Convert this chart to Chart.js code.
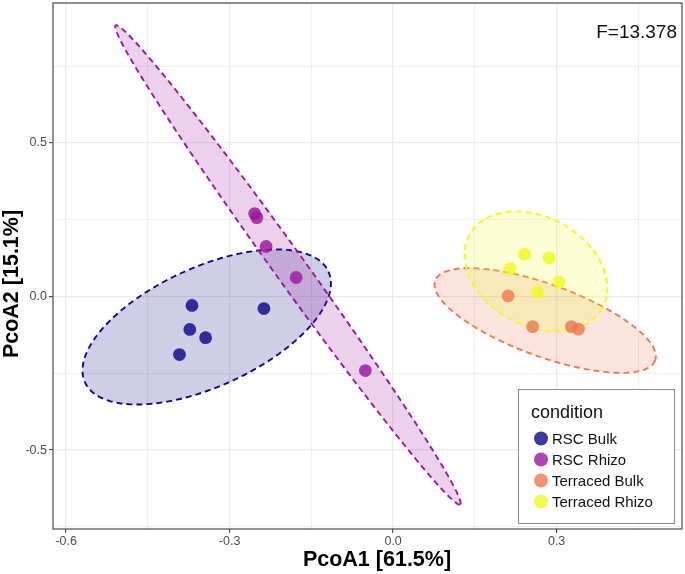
<!DOCTYPE html>
<html>
<head>
<meta charset="utf-8">
<script src="https://cdn.jsdelivr.net/npm/chart.js@4/dist/chart.umd.min.js"></script>
<style>
  html, body { margin: 0; padding: 0; background: #fff; }
  #wrap { width: 685px; height: 574px; }
</style>
</head>
<body>
<div id="wrap"><canvas id="chart" width="685" height="574"></canvas></div>
<script>
// groups and points
let groups = ['RSC Bulk', 'RSC Rhizo', 'Terraced Bulk', 'Terraced Rhizo'];
let colors = ['#0D0887', '#9C179E', '#ED7953', '#F0F921'];

let rscBulkX = [-0.369, -0.373, -0.344, -0.392, -0.237];
let rscBulkY = [-0.029, -0.107, -0.134, -0.189, -0.039];
let rscRhizoX = [-0.254, -0.250, -0.233, -0.178, -0.051];
let rscRhizoY = [0.270, 0.257, 0.163, 0.062, -0.241];
let terBulkX = [0.211, 0.256, 0.327, 0.340];
let terBulkY = [0.002, -0.098, -0.098, -0.106];
let terRhizoX = [0.241, 0.286, 0.215, 0.304, 0.265];
let terRhizoY = [0.138, 0.126, 0.091, 0.047, 0.015];

// ellipses: centre and two semi-axis vectors (data units)
let ellCx = [-0.342, -0.193, 0.279, 0.262];
let ellCy = [-0.099, 0.103, -0.078, 0.082];
let ellU = [[0.2233, 0.1805], [0.316, -0.780], [0.2018, -0.130], [0.1219, -0.1199]];
let ellV = [[0.0454, -0.1765], [-0.0232, -0.0293], [-0.0226, -0.1104], [-0.0483, -0.1544]];

let xTicks = [-0.6, -0.45, -0.3, -0.15, 0, 0.15, 0.3, 0.45];
let xLabels = [-0.6, -0.3, 0, 0.3];
let yTicks = [-0.75, -0.5, -0.25, 0, 0.25, 0.5, 0.75];
let yLabels = [-0.5, 0, 0.5];

let xTitle = 'PcoA1 [61.5%]';
let yTitle = 'PcoA2 [15.1%]';
let statText = 'F=13.378';
let FONT = "'Liberation Sans', Arial, sans-serif";

function pts(xs, ys) {
    let out = [];
    for (var i=0; i<xs.length; i++) out.push({x: xs[i], y: ys[i]});
    return out;
}

function alpha(hex, a) {
    let n = parseInt(hex.slice(1), 16);
    return 'rgba(' + (n >> 16) + ',' + ((n >> 8) & 255) + ',' + (n & 255) + ',' + a + ')';
}

function isMajor(list, v) {
    return list.some(l => Math.abs(l - v) < 1e-9);
}

let series = [pts(rscBulkX, rscBulkY), pts(rscRhizoX, rscRhizoY), pts(terBulkX, terBulkY), pts(terRhizoX, terRhizoY)];

let ellipsePlugin = {
    id: 'ellipses',
    beforeDatasetsDraw(chart) {
        const {ctx, chartArea, scales} = chart;
        ctx.save();
        ctx.beginPath();
        ctx.rect(chartArea.left, chartArea.top, chartArea.right - chartArea.left, chartArea.bottom - chartArea.top);
        ctx.clip();
        for (var g=0; g<groups.length; g++) {
            ctx.beginPath();
            for (var k=0; k<=180; k++) {
                let t = k / 180 * Math.PI * 2;
                let dx = ellCx[g] + ellU[g][0] * Math.cos(t) + ellV[g][0] * Math.sin(t);
                let dy = ellCy[g] + ellU[g][1] * Math.cos(t) + ellV[g][1] * Math.sin(t);
                let px = scales.x.getPixelForValue(dx);
                let py = scales.y.getPixelForValue(dy);
                if (k == 0) ctx.moveTo(px, py); else ctx.lineTo(px, py);
            }
            ctx.closePath();
            ctx.fillStyle = alpha(colors[g], 0.2);
            ctx.fill();
            ctx.setLineDash([6, 4]);
            ctx.lineWidth = 1.9;
            ctx.strokeStyle = colors[g];
            ctx.stroke();
        }
        ctx.restore();
    },
    afterDraw(chart) {
        const {ctx, chartArea} = chart;
        ctx.save();
        // panel border
        ctx.strokeStyle = '#4a4a4a';
        ctx.lineWidth = 1.2;
        ctx.strokeRect(chartArea.left, chartArea.top, chartArea.right - chartArea.left, chartArea.bottom - chartArea.top);

        // axis titles
        ctx.fillStyle = '#000';
        ctx.font = 'bold 21.5px ' + FONT;
        ctx.textAlign = 'center';
        ctx.textBaseline = 'middle';
        ctx.fillText(xTitle, 377, 560);
        ctx.save();
        ctx.translate(12, 284);
        ctx.rotate(-Math.PI / 2);
        ctx.fillText(yTitle, 0, 0);
        ctx.restore();

        // statistic
        ctx.fillStyle = '#111';
        ctx.font = '19px ' + FONT;
        ctx.textAlign = 'right';
        ctx.fillText(statText, 677, 33);

        // legend box
        let lx = 518, ly = 389, lw = 156, lh = 134;
        ctx.fillStyle = '#fff';
        ctx.fillRect(lx, ly, lw, lh);
        ctx.strokeStyle = '#8a8a8a';
        ctx.lineWidth = 1;
        ctx.strokeRect(lx + 0.5, ly + 0.5, lw, lh);
        ctx.textAlign = 'left';
        ctx.fillStyle = '#111';
        ctx.font = '18px ' + FONT;
        ctx.fillText('condition', 531, 413);
        ctx.font = '15px ' + FONT;
        let rows = [438.5, 459.5, 480.5, 501.5];
        for (var g=0; g<groups.length; g++) {
            ctx.beginPath();
            ctx.arc(541, rows[g], 7, 0, Math.PI * 2);
            ctx.fillStyle = alpha(colors[g], 0.8);
            ctx.fill();
            ctx.fillStyle = '#111';
            ctx.fillText(groups[g], 552, rows[g] + 1);
        }
        ctx.restore();
    }
};

function initChart() {
    const ctx = document.getElementById('chart').getContext('2d');
    let datasets = [];
    for (var g=0; g<groups.length; g++) {
        datasets.push({
            label: groups[g],
            data: series[g],
            pointRadius: 6.4,
            pointHoverRadius: 6.4,
            pointBorderWidth: 0,
            backgroundColor: alpha(colors[g], 0.82),
            borderColor: alpha(colors[g], 0.82)
        });
    }

    let tickFont = {family: FONT, size: 12.5};

    return new Chart(ctx, {
        type: 'scatter',
        data: {datasets: datasets},
        plugins: [ellipsePlugin],
        options: {
            responsive: false,
            animation: false,
            events: [],
            layout: {autoPadding: false, padding: {top: 3, right: 3, left: 0, bottom: 0}},
            plugins: {
                legend: {display: false},
                tooltip: {enabled: false}
            },
            scales: {
                x: {
                    type: 'linear',
                    min: -0.624,
                    max: 0.53,
                    afterBuildTicks: (s) => { s.ticks = xTicks.map(v => ({value: v})); },
                    afterFit: (s) => { s.height = 45; s.paddingLeft = 0; s.paddingRight = 0; },
                    border: {display: false},
                    grid: {
                        color: '#ebebeb',
                        lineWidth: (c) => isMajor(xLabels, c.tick.value) ? 1.3 : 0.8,
                        tickLength: 4,
                        tickColor: (c) => isMajor(xLabels, c.tick.value) ? '#333' : 'rgba(0,0,0,0)',
                        tickWidth: 1
                    },
                    ticks: {
                        color: '#4d4d4d',
                        font: tickFont,
                        padding: 1,
                        autoSkip: false,
                        maxRotation: 0,
                        callback: (v) => isMajor(xLabels, v) ? Number(v).toFixed(1) : ''
                    }
                },
                y: {
                    type: 'linear',
                    min: -0.757,
                    max: 0.956,
                    afterBuildTicks: (s) => { s.ticks = yTicks.map(v => ({value: v})); },
                    afterFit: (s) => { s.width = 53; s.paddingTop = 0; s.paddingBottom = 0; },
                    border: {display: false},
                    grid: {
                        color: '#ebebeb',
                        lineWidth: (c) => isMajor(yLabels, c.tick.value) ? 1.3 : 0.8,
                        tickLength: 4,
                        tickColor: (c) => isMajor(yLabels, c.tick.value) ? '#333' : 'rgba(0,0,0,0)',
                        tickWidth: 1
                    },
                    ticks: {
                        color: '#4d4d4d',
                        font: tickFont,
                        padding: 2,
                        autoSkip: false,
                        callback: (v) => isMajor(yLabels, v) ? Number(v).toFixed(1) : ''
                    }
                }
            }
        }
    });
}

initChart();
</script>
</body>
</html>
